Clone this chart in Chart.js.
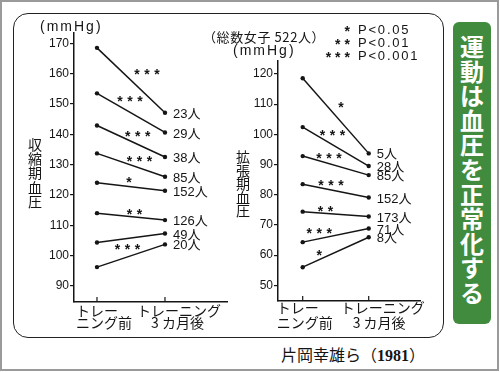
<!DOCTYPE html>
<html lang="ja">
<head>
<meta charset="utf-8">
<script src="https://cdn.jsdelivr.net/npm/chart.js@4.4.1/dist/chart.umd.min.js"></script>
<style>
  html, body { margin:0; padding:0; background:#fff; }
  #page { position:relative; width:500px; height:372px; overflow:hidden; background:#fff;
          font-family:"Liberation Sans","Noto Sans CJK JP",sans-serif; color:#151515; }
  #border { position:absolute; left:0; top:0; width:499px; height:371px; box-sizing:border-box;
            border:2px solid #9a9a9a; }
  #frame { position:absolute; left:13px; top:13px; width:431px; height:325px; box-sizing:border-box;
           border:1.5px solid #222; border-radius:15px; }
  canvas { position:absolute; top:0; }
  #c1 { left:0; }
  #c2 { left:240px; }
  .t { position:absolute; white-space:nowrap; line-height:16px; }
  .unit { font-size:14px; letter-spacing:2px; }
  .vt { position:absolute; width:14px; font-size:14px; word-break:break-all; text-align:center;
        font-family:"Noto Sans CJK JP",sans-serif; }
  .leg { position:absolute; font-size:13px; line-height:13px; white-space:nowrap; }
  .legs { width:44px; text-align:right; font-weight:bold; font-size:14px; letter-spacing:4px; }
  #green { position:absolute; left:453px; top:22px; width:38px; height:302px; background:#418b3f;
           border-radius:6px; color:#fff; font-family:"Noto Sans CJK JP",sans-serif; font-weight:bold;
           font-size:24px; line-height:24.6px; text-align:center; word-break:break-all;
           box-sizing:border-box; padding:12px 7px 0 7px; }
  #cite { position:absolute; left:281px; top:344px; font-size:16px; line-height:20px;
          font-family:"Noto Sans CJK JP",sans-serif; white-space:nowrap; }
  #cite b { font-family:"Liberation Serif",serif; }
</style>
</head>
<body>
<div id="page">
  <div id="border"></div>
  <div id="frame"></div>
  <canvas id="c1" width="240" height="340"></canvas>
  <canvas id="c2" width="200" height="340"></canvas>

  <div class="t unit" style="left:40px;top:18px;">(mmHg)</div>
  <div class="t" style="left:203px;top:29px;font-size:13px;letter-spacing:0.6px;font-family:'Noto Sans CJK JP';">（総数女子 522人）</div>
  <div class="t unit" style="left:233px;top:42px;">(mmHg)</div>

  <div class="vt" style="left:28px;top:137px;line-height:14.2px;">収縮期血圧</div>
  <div class="vt" style="left:236px;top:150px;line-height:13.6px;">拡張期血圧</div>

  <div class="leg legs" style="left:310px;top:25px;">*</div>
  <div class="leg" style="left:358px;top:23px;letter-spacing:1.8px;">P&lt;0.05</div>
  <div class="leg legs" style="left:310px;top:38px;">**</div>
  <div class="leg" style="left:358px;top:36px;letter-spacing:1.8px;">P&lt;0.01</div>
  <div class="leg legs" style="left:310px;top:51px;">***</div>
  <div class="leg" style="left:358px;top:49px;letter-spacing:1.8px;">P&lt;0.001</div>

  <div id="green">運動は血圧を正常化する</div>
  <div id="cite">片岡幸雄ら（<b>1981</b>）</div>
</div>

<script>
// ---- data ----
const X_CATEGORIES = ['トレーニング前', 'トレーニング3カ月後'];
const X_TICK_LINES = [['トレー', 'ニング前'], ['トレーニング', '3 カ月後']];

// Systolic (収縮期血圧)
const SBP_TICKS  = [90, 100, 110, 120, 130, 140, 150, 160, 170];
const SBP_N      = ['23人', '29人', '38人', '85人', '152人', '126人', '49人', '20人'];
const SBP_BEFORE = [168.5, 153.5, 142.9, 133.7, 124.0, 114.0, 104.3, 96.2];
const SBP_AFTER  = [147.1, 140.6, 132.5, 126.0, 121.4, 111.7, 107.3, 103.7];
const SBP_SIG    = ['***', '***', '***', '***', '*', '**', '', '***'];
// significance-mark anchors in data units (x: 0..1 along training axis, y: mmHg)
const SBP_SIG_X  = [0.735, 0.485, 0.60, 0.625, 0.47, 0.55, null, 0.45];
const SBP_SIG_Y  = [160.6, 151.6, 140.1, 131.9, 124.9, 114.5, null, 102.8];

// Diastolic (拡張期血圧)
const DBP_TICKS  = [50, 60, 70, 80, 90, 100, 110, 120];
const DBP_N      = ['5人', '28人', '85人', '152人', '173人', '71人', '8人'];
const DBP_BEFORE = [118.6, 102.4, 92.8, 83.5, 74.4, 64.3, 56.0];
const DBP_AFTER  = [93.7, 89.5, 86.5, 79.1, 72.8, 68.8, 65.9];
const DBP_SIG    = ['*', '***', '***', '***', '**', '***', '*'];
const DBP_SIG_X  = [0.58, 0.45, 0.40, 0.43, 0.345, 0.25, 0.25];
const DBP_SIG_Y  = [109.6, 100.4, 92.95, 84.0, 75.3, 68.1, 60.8];

Chart.defaults.font.family = '"Liberation Sans","Noto Sans CJK JP",sans-serif';
Chart.defaults.color = '#151515';

function annotPlugin(cfg) {
  return {
    id: 'annot',
    afterDatasetsDraw(chart) {
      const { ctx, chartArea } = chart;
      const x = chart.scales.x, y = chart.scales.y;
      ctx.save();
      ctx.fillStyle = '#151515';
      // n labels at line ends
      ctx.font = '13px "Liberation Sans","Noto Sans CJK JP",sans-serif';
      ctx.textBaseline = 'middle';
      ctx.textAlign = 'left';
      cfg.after.forEach((v, i) => {
        ctx.fillText(cfg.n[i], x.getPixelForValue(1) + 8, y.getPixelForValue(v) + 1.5);
      });
      // significance stars
      ctx.font = 'bold 14px "Liberation Sans",sans-serif';
      ctx.textAlign = 'center';
      cfg.sig.forEach((s, i) => {
        if (!s) return;
        const cx = x.getPixelForValue(cfg.sx[i]);
        const cy = y.getPixelForValue(cfg.sy[i]);
        for (let k = 0; k < s.length; k++) {
          ctx.fillText('*', cx + (k - (s.length - 1) / 2) * 10, cy + 3.2);
        }
      });
      // inner x tick marks
      ctx.strokeStyle = '#151515';
      ctx.lineWidth = 1.2;
      X_CATEGORIES.forEach((c, i) => {
        const px = x.getPixelForValue(i);
        ctx.beginPath();
        ctx.moveTo(px, chartArea.bottom);
        ctx.lineTo(px, chartArea.bottom - 5);
        ctx.stroke();
      });
      // x category labels (two lines)
      ctx.font = '14px "Noto Sans CJK JP",sans-serif';
      ctx.textAlign = 'left';
      X_TICK_LINES.forEach((lines, i) => {
        const px = x.getPixelForValue(i);
        lines.forEach((t, j) => {
          ctx.fillText(t, px + cfg.xoff[i][j], chartArea.bottom + cfg.ly[j]);
        });
      });
      ctx.restore();
    }
  };
}

function makeChart(id, before, after, n, sig, sx, sy, ticks, ymin, ymax, xmin, xmax, yW, xH, pad, xoff, ly) {
  const datasets = before.map((b, i) => ({
    data: [{ x: 0, y: b }, { x: 1, y: after[i] }],
    borderColor: '#151515',
    backgroundColor: '#151515',
    borderWidth: 1.5,
    pointRadius: 2.2,
    pointBorderWidth: 0,
    pointBackgroundColor: '#151515',
    tension: 0
  }));
  return new Chart(document.getElementById(id), {
    type: 'line',
    data: { datasets },
    options: {
      responsive: false,
      animation: false,
      devicePixelRatio: 1,
      layout: { padding: pad },
      plugins: { legend: { display: false }, tooltip: { enabled: false } },
      scales: {
        x: {
          type: 'linear', min: xmin, max: xmax,
          ticks: { display: false },
          grid: { display: false },
          border: { display: true, color: '#151515', width: 1.5 },
          afterFit: s => { s.height = xH; }
        },
        y: {
          type: 'linear', min: ymin, max: ymax,
          afterBuildTicks: s => { s.ticks = ticks.map(v => ({ value: v })); },
          ticks: { font: { size: 12 }, color: '#151515', padding: 1 },
          grid: { drawOnChartArea: false, drawTicks: true, tickLength: 4, color: '#151515', lineWidth: 1.2 },
          border: { display: true, color: '#151515', width: 1.5 },
          afterFit: s => { s.width = yW; }
        }
      }
    },
    plugins: [annotPlugin({ after, n, sig, sx, sy, xoff, ly })]
  });
}

makeChart('c1', SBP_BEFORE, SBP_AFTER, SBP_N, SBP_SIG, SBP_SIG_X, SBP_SIG_Y, SBP_TICKS,
  84.7, 173.4, -0.338, 1.912, 74, 38, { top: 33, right: 13, left: 0, bottom: 0 },
  [[-21, -21], [-28, -14]], [9, 21]);

makeChart('c2', DBP_BEFORE, DBP_AFTER, DBP_N, DBP_SIG, DBP_SIG_X, DBP_SIG_Y, DBP_TICKS,
  44.8, 124.3, -0.374, 1.777, 38, 39, { top: 61, right: 20, left: 0, bottom: 0 },
  [[-26, -26], [-28, -16]], [7, 21.5]);
</script>
</body>
</html>
